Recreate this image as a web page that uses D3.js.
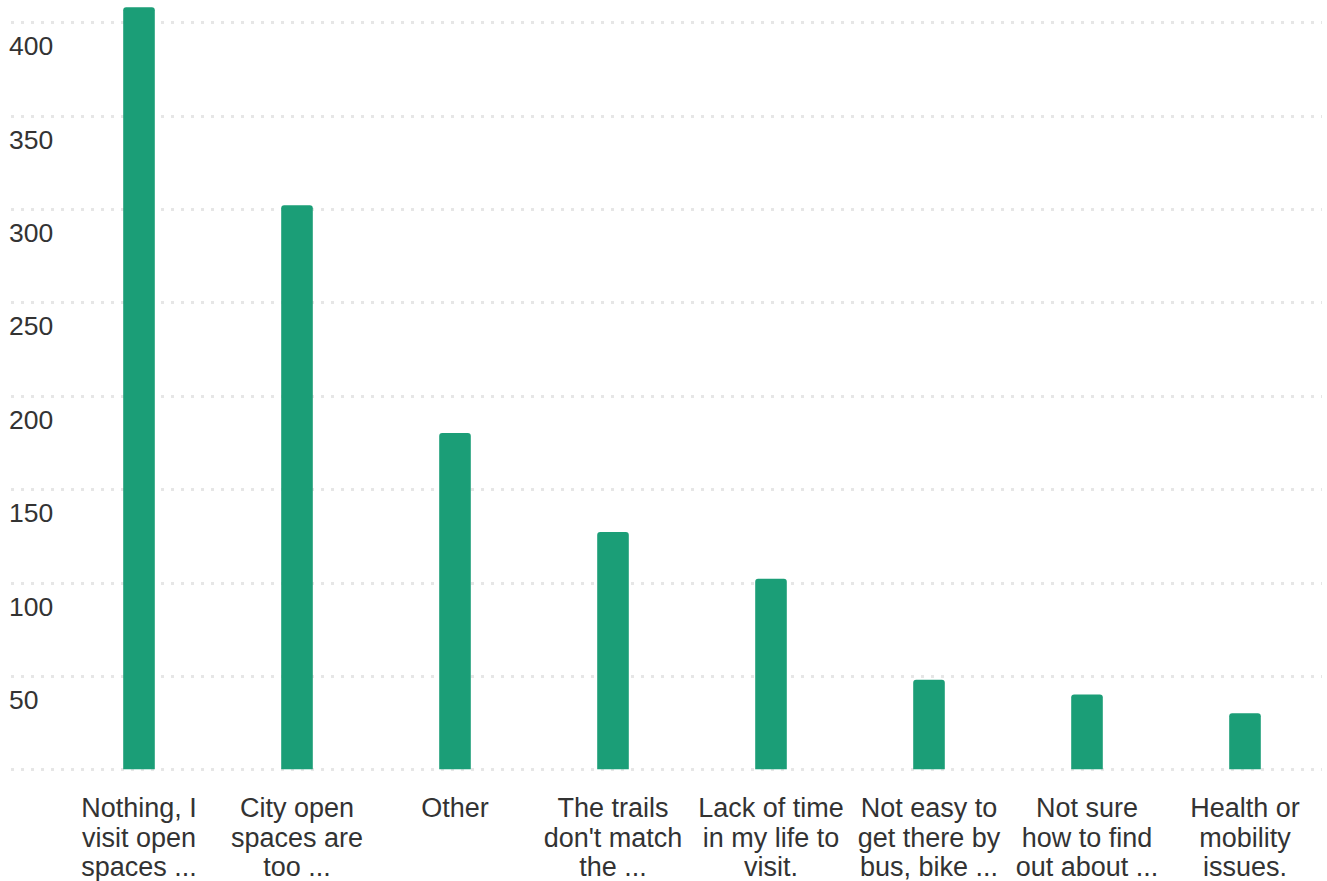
<!DOCTYPE html>
<html>
<head>
<meta charset="utf-8">
<script src="https://cdn.jsdelivr.net/npm/d3@7"></script>
<style>
  html, body { margin: 0; padding: 0; background: #fff; }
  svg { display: block; font-family: "Liberation Sans", Arial, sans-serif; }
</style>
</head>
<body>
<svg id="chart" width="1327" height="881"></svg>
<script>
const categories = [
  ["Nothing, I", "visit open", "spaces ..."],
  ["City open", "spaces are", "too ..."],
  ["Other"],
  ["The trails", "don't match", "the ..."],
  ["Lack of time", "in my life to", "visit."],
  ["Not easy to", "get there by", "bus, bike ..."],
  ["Not sure", "how to find", "out about ..."],
  ["Health or", "mobility", "issues."]
];
const values = [408, 302, 180, 127, 102, 48, 40, 30];
const yTicks = [0, 50, 100, 150, 200, 250, 300, 350, 400];
const yTickLabels = ["", "50", "100", "150", "200", "250", "300", "350", "400"];

const svg = d3.select("#chart");
const x = d3.scaleBand().domain(d3.range(categories.length)).range([60, 1324]).paddingInner(0.8).paddingOuter(0.4);
const y = d3.scaleLinear().domain([0, 400]).range([769.3, 22.2]);

// grid lines
svg.append("g").selectAll("line").data(yTicks).join("line")
  .attr("x1", 11).attr("x2", 1322)
  .attr("y1", d => Math.round(y(d)) + 0.5).attr("y2", d => Math.round(y(d)) + 0.5)
  .attr("stroke", "#e6e6e6").attr("stroke-width", 3)
  .attr("stroke-dasharray", "3,7");

// y labels
svg.append("g").selectAll("text").data(yTicks).join("text")
  .attr("x", 9).attr("y", d => y(d) + 33)
  .attr("fill", "#333").attr("font-size", 26.5)
  .text((d, i) => yTickLabels[i]);

// bars with rounded top corners
const r = 3;
svg.append("g").selectAll("path").data(values).join("path")
  .attr("fill", "#1b9e77")
  .attr("d", (d, i) => {
    const x0 = x(i), w = x.bandwidth(), yt = y(d), yb = y(0);
    return `M${x0},${yb}V${yt + r}Q${x0},${yt} ${x0 + r},${yt}H${x0 + w - r}Q${x0 + w},${yt} ${x0 + w},${yt + r}V${yb}Z`;
  });

// category labels
const lab = svg.append("g").selectAll("text").data(categories).join("text")
  .attr("text-anchor", "middle").attr("fill", "#333").attr("font-size", 27)
  .attr("x", (d, i) => x(i) + x.bandwidth() / 2)
  .attr("y", 817);
lab.selectAll("tspan").data(d => d).join("tspan")
  .attr("x", function() { return this.parentNode.getAttribute("x"); })
  .attr("dy", (d, i) => i === 0 ? 0 : 29.5)
  .text(d => d);
</script>
</body>
</html>
